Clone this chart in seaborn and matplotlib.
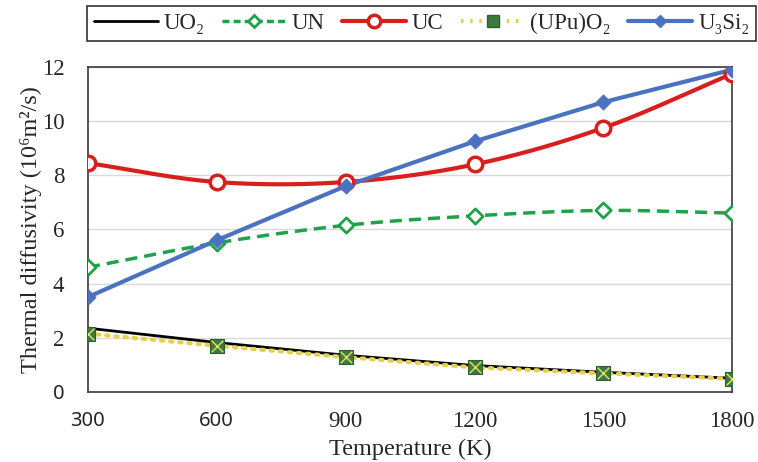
import numpy as np
import pandas as pd
import matplotlib
matplotlib.use("Agg")
import matplotlib.pyplot as plt
import seaborn as sns
from matplotlib.lines import Line2D

temps = [300, 600, 900, 1200, 1500, 1800]
uo2 = [2.35, 1.82, 1.35, 0.97, 0.72, 0.50]
un = [4.6, 5.5, 6.15, 6.5, 6.7, 6.6]
uc = [8.45, 7.75, 7.75, 8.4, 9.75, 11.75]
upuo2 = [2.15, 1.7, 1.28, 0.9, 0.68, 0.48]
u3si2 = [3.5, 5.6, 7.6, 9.25, 10.7, 11.9]
labels = ["UO₂", "UN", "UC", "(UPu)O₂", "U₃Si₂"]
xticks = [300, 600, 900, 1200, 1500, 1800]
yticks = [0, 2, 4, 6, 8, 10, 12]

sns.set_theme(style="white")
plt.rcParams['font.family'] = ['Liberation Serif', 'DejaVu Serif']


def smooth(x, y, n=30):
    # Catmull-Rom spline through the points (like Excel smoothed line)
    x = np.asarray(x, float); y = np.asarray(y, float)
    P = np.column_stack([x, y])
    P = np.vstack([2 * P[0] - P[1], P, 2 * P[-1] - P[-2]])
    out = []
    for i in range(1, len(P) - 2):
        p0, p1, p2, p3 = P[i - 1], P[i], P[i + 1], P[i + 2]
        t = np.linspace(0, 1, n, endpoint=(i == len(P) - 3))[:, None]
        c = 0.5 * ((2 * p1) + (-p0 + p2) * t + (2 * p0 - 5 * p1 + 4 * p2 - p3) * t ** 2
                   + (-p0 + 3 * p1 - 3 * p2 + p3) * t ** 3)
        out.append(c)
    c = np.vstack(out)
    return c[:, 0], c[:, 1]


fig, ax = plt.subplots(figsize=(7.58, 4.62), dpi=100)
fig.subplots_adjust(left=0.116, right=0.966, top=0.855, bottom=0.152)

c_uo2 = "black"
c_un = "#1fa24a"
c_uc = "#d91e1e"
c_up = "#e8cf4a"
c_u3 = "#4a72c0"

# UO2
sns.lineplot(x=temps, y=uo2, ax=ax, color=c_uo2, lw=2.0, zorder=3)
# (UPu)O2
sns.lineplot(x=temps, y=upuo2, ax=ax, color=c_up, lw=3.0, zorder=3)
ax.lines[-1].set_linestyle((0, (0.6, 1.6)))
ax.lines[-1].set_dash_capstyle("round")
sns.scatterplot(x=temps, y=upuo2, ax=ax, marker="s", s=110, color="#3d7a3f",
                edgecolor="#2e5f30", linewidth=0.8, zorder=5)
sns.scatterplot(x=temps, y=upuo2, ax=ax, marker="x", s=70, color="#e8e060",
                linewidth=1.0, zorder=6)
# UN
sx, sy = smooth(temps, un)
sns.lineplot(x=sx, y=sy, ax=ax, color=c_un, lw=2.5, sort=False, zorder=3)
ax.lines[-1].set_linestyle((0, (3.5, 2)))
sns.scatterplot(x=temps, y=un, ax=ax, marker="D", s=60, facecolor="white",
                edgecolor=c_un, linewidth=2, zorder=5)
# UC
sx, sy = smooth(temps, uc)
sns.lineplot(x=sx, y=sy, ax=ax, color=c_uc, lw=3.0, sort=False, zorder=3)
sns.scatterplot(x=temps, y=uc, ax=ax, marker="o", s=110, facecolor="white",
                edgecolor=c_uc, linewidth=2.5, zorder=5)
# U3Si2
sns.lineplot(x=temps, y=u3si2, ax=ax, color=c_u3, lw=3.0, zorder=4)
sns.scatterplot(x=temps, y=u3si2, ax=ax, marker="D", s=60, color=c_u3,
                edgecolor=c_u3, zorder=6)

ax.set_xlim(300, 1800)
ax.set_ylim(0, 12)
ax.set_xticks(xticks)
ax.set_yticks(yticks)
ax.tick_params(axis="both", labelsize=16.5, length=0)
ax.tick_params(axis="x", pad=14)
ax.tick_params(axis="y", pad=17)
for lab in ax.get_xticklabels()[:2] + ax.get_yticklabels()[:1]:
    lab.set_family(["Noto Sans", "DejaVu Sans"])
    lab.set_fontsize(14.5)
ax.yaxis.grid(True, color="#d9d9d9", lw=1)
for s in ax.spines.values():
    s.set_color("#3a3a3a")
    s.set_linewidth(1.2)
ax.set_xlabel("Temperature (K)", fontsize=17.5, labelpad=5)
ax.set_ylabel("Thermal diffusivity (10⁶m²/s)", fontsize=17.5, labelpad=0)

handles = [
    Line2D([], [], color=c_uo2, lw=2),
    Line2D([], [], color=c_un, lw=2.5, ls=(0, (2, 1.2)), marker="D", markersize=6,
           markerfacecolor="white", markeredgecolor=c_un, markeredgewidth=2),
    Line2D([], [], color=c_uc, lw=3, marker="o", markersize=9,
           markerfacecolor="white", markeredgecolor=c_uc, markeredgewidth=2.5),
    Line2D([], [], color=c_up, lw=3, ls=(0, (0.6, 1.6)), marker="s", markersize=9,
           markerfacecolor="#3d7a3f", markeredgecolor="#2e5f30"),
    Line2D([], [], color=c_u3, lw=3, marker="D", markersize=6,
           markerfacecolor=c_u3, markeredgecolor=c_u3),
]
leg = fig.legend(handles, labels, loc="upper center", bbox_to_anchor=(0.556, 1.012),
                 ncol=5, fontsize=16.5, frameon=True, fancybox=False,
                 edgecolor="black", handlelength=2.8, handletextpad=0.25,
                 columnspacing=0.75, borderpad=0.3)
leg.get_frame().set_linewidth(1.2)

fig.savefig("out.png", dpi=100)
